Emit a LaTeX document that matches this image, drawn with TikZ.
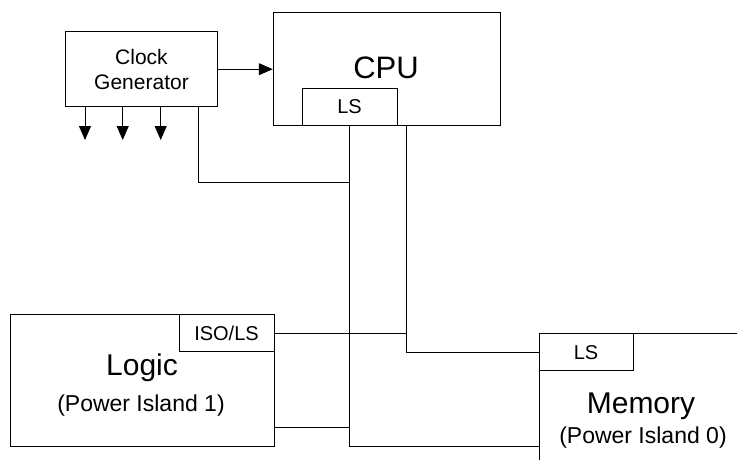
\documentclass[tikz,border=0pt]{standalone}
\usepackage{fontspec}
\setmainfont{Liberation Sans}
\usetikzlibrary{arrows.meta, positioning}

\begin{document}
\begin{tikzpicture}[x=1pt, y=-1pt, line width=1pt,
    block/.style={rectangle, draw, inner sep=0pt},
    port/.style={rectangle, draw, fill=white, inner sep=0pt, minimum width=95pt, minimum height=37.5pt, font=\fontsize{20}{24}\selectfont},
    bigtext/.style={anchor=base, font=\fontsize{30}{36}\selectfont},
    subtext/.style={anchor=base, font=\fontsize{23}{27}\selectfont},
    sig/.style={-{Triangle[length=14pt, width=12pt]}}
]
\useasboundingbox (0,0) rectangle (737,460);
\clip (0,0) rectangle (737,460);

% blocks
\node[block, minimum width=151.6pt, minimum height=75pt, align=center, font=\fontsize{21}{25}\selectfont] (clk) at (141.5,69.2) {Clock\\Generator};
\node[block, minimum width=227.5pt, minimum height=113.5pt] (cpu) at (387,69) {};
\node[bigtext, font=\fontsize{31}{36}\selectfont] (cpuname) at (386,79) {CPU};
\node[port] (cpuls) at (349.5,107) {LS};

\node[block, minimum width=264pt, minimum height=131.7pt] (logic) at (142,380.2) {};
\node[port] (isols) at (226.5,333.2) {ISO/LS};
\node[bigtext] (logicname) at (142,375) {Logic};
\node[subtext] (logicsub) at (141,411.7) {(Power Island 1)};

\node[block, minimum width=261pt, minimum height=186.7pt] (mem) at (669.5,426.7) {};
\node[port, minimum width=94pt] (memls) at (586,352.2) {LS};
\node[bigtext] (memname) at (641,413.3) {Memory};
\node[subtext] (memsub) at (643,443.3) {(Power Island 0)};

% clock
\draw[sig] (clk.east) -- (clk.east -| cpu.west);
\foreach \x [count=\i] in {85,122.7,160.7} {
  \coordinate (tick\i) at (\x,140);
  \draw[sig] (tick\i |- clk.south) -- (tick\i);
}
\coordinate (clkbend) at (198.3,182.3);
\draw (clkbend |- clk.south) -- (clkbend) -- (clkbend -| cpuls.south);

% buses
\draw (cpuls.south) -- (cpuls.south |- logic.south) -- (logic.south -| mem.west);
\coordinate (cpuport) at ([xshift=19pt]cpu.south);
\draw (cpuport) |- (memls.west);
\draw (isols.east) -- (isols.east -| cpuport);
\coordinate (logicport) at ([yshift=-47pt]logic.east);
\draw (logicport) -- (logicport -| cpuls.south);
\end{tikzpicture}
\end{document}
